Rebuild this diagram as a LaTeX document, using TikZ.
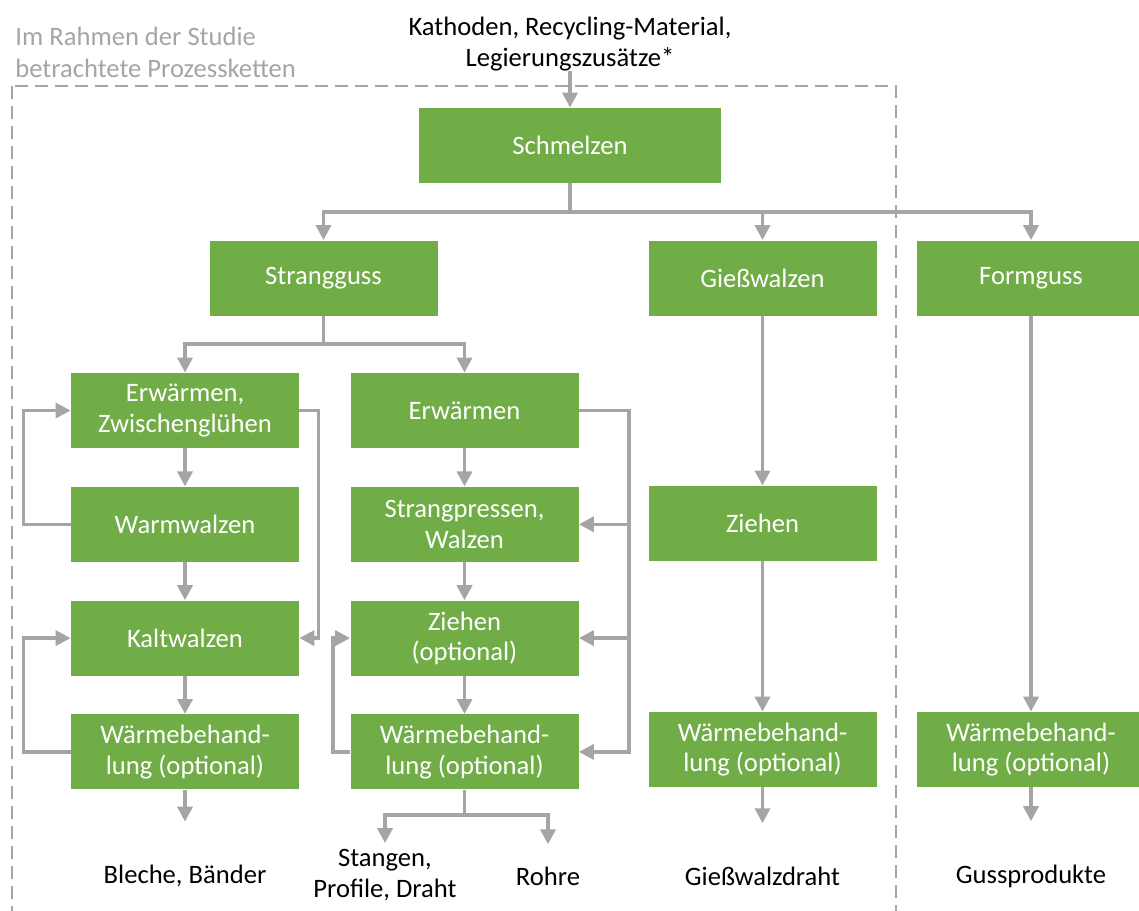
\documentclass[tikz,border=0pt]{standalone}
\usepackage{fontspec}
\setmainfont{Carlito}
\usetikzlibrary{arrows.meta, positioning}
\definecolor{boxgreen}{HTML}{70AD47}
\definecolor{linegray}{HTML}{A5A5A5}

\begin{document}
\begin{tikzpicture}[
  x=0.5pt, y=-0.5pt,
  node distance=19pt,
  every node/.style={font=\fontsize{13.3}{15.2}\selectfont, align=center},
  box/.style={fill=boxgreen, text=white, minimum width=114pt, minimum height=37.5pt, inner sep=0pt},
  txt/.style={inner sep=0pt},
  ln/.style={draw=linegray, line width=1.75pt},
  arr/.style={ln, -{Triangle[length=7.5pt, width=7.5pt]}},
  frame/.style={draw=linegray, line width=1pt, dash pattern=on 6.5pt off 3.5pt}
]
\useasboundingbox (0,0) rectangle (1139,910);

% Study frame
\draw[frame] (12,86) rectangle (896,940);
\node[txt, text=linegray, anchor=north west, align=left, font=\fontsize{13.3}{16}\selectfont] (studylabel) at (15,27) {Im Rahmen der Studie\\betrachtete Prozessketten};

% Top nodes
\node[txt] (input) at (570,44) {Kathoden, Recycling-Material,\\Legierungszusätze*};
\node[box, minimum width=151pt] (schmelzen) at (570,145.5) {Schmelzen};
\node[box] (strangguss) at (323.5,278) {Strangguss};
\node[box] (giesswalzen) at (762.5,278) {Gießwalzen};
\node[box] (formguss) at (1031,278) {Formguss};

% Left chain
\node[box] (erw1) at (185,410.5) {Erwärmen,\\Zwischenglühen};
\node[box, below=of erw1] (warmwalzen) {Warmwalzen};
\node[box, below=of warmwalzen] (kaltwalzen) {Kaltwalzen};
\node[box, below=of kaltwalzen] (wb1) {Wärmebehand-\\lung (optional)};

% Middle chain
\node[box] (erw2) at (464.5,410.5) {Erwärmen};
\node[box, below=of erw2] (strangpressen) {Strangpressen,\\Walzen};
\node[box, below=of strangpressen] (ziehen2) {Ziehen\\(optional)};
\node[box, below=of ziehen2] (wb2) {Wärmebehand-\\lung (optional)};

% Right chains
\node[box] (ziehen3) at (762.5,523.5) {Ziehen};
\node[box] (wb3) at (762.5,749.5) {Wärmebehand-\\lung (optional)};
\node[box] (wb4) at (1031,749.5) {Wärmebehand-\\lung (optional)};

% Products
\node[txt] (bleche) at (185,876) {Bleche, Bänder};
\node[txt] (stangen) at (385,875) {Stangen,\\Profile, Draht};
\node[txt] (rohre) at (548,876) {Rohre};
\node[txt] (walzdraht) at (762.5,876) {Gießwalzdraht};
\node[txt] (gussprod) at (1031,876) {Gussprodukte};

% Branch points
\coordinate (split1) at (570,212);
\coordinate (split2) at (323.5,344);
\coordinate (split3) at (464.5,815);

% Arrows
\draw[arr] (input) -- (schmelzen);
\draw[ln] (schmelzen) -- (split1);
\draw[arr] (split1) -| (strangguss);
\draw[arr] (split1) -| (giesswalzen);
\draw[arr] (split1) -| (formguss);
\draw[ln] (strangguss) -- (split2);
\draw[arr] (split2) -| (erw1);
\draw[arr] (split2) -| (erw2);

\draw[arr] (erw1) -- (warmwalzen);
\draw[arr] (warmwalzen) -- (kaltwalzen);
\draw[arr] (kaltwalzen) -- (wb1);
\draw[arr] (warmwalzen.west) -- ++(-47,0) |- (erw1.west);
\draw[arr] (wb1.west) -- ++(-47,0) |- (kaltwalzen.west);
\draw[arr] (erw1.east) -- ++(19,0) |- (kaltwalzen.east);

\draw[arr] (erw2) -- (strangpressen);
\draw[arr] (strangpressen) -- (ziehen2);
\draw[arr] (ziehen2) -- (wb2);
\draw[arr] (erw2.east) -- ++(50,0) coordinate (rbus) |- (wb2.east);
\draw[arr] (rbus |- strangpressen.east) -- (strangpressen.east);
\draw[arr] (rbus |- ziehen2.east) -- (ziehen2.east);
\draw[arr] (wb2.west) -- ++(-17,0) |- (ziehen2.west);

\draw[arr] (giesswalzen) -- (ziehen3);
\draw[arr] (ziehen3) -- (wb3);
\draw[arr] (formguss) -- (wb4);

\draw[arr, shorten >=21.5pt] (wb1) -- (bleche);
\draw[ln] (wb2) -- (split3);
\draw[arr, shorten >=3pt] (split3) -| (stangen);
\draw[arr, shorten >=11pt] (split3) -| (rohre);
\draw[arr, shorten >=21.5pt] (wb3) -- (walzdraht);
\draw[arr, shorten >=21.5pt] (wb4) -- (gussprod);
\end{tikzpicture}
\end{document}
